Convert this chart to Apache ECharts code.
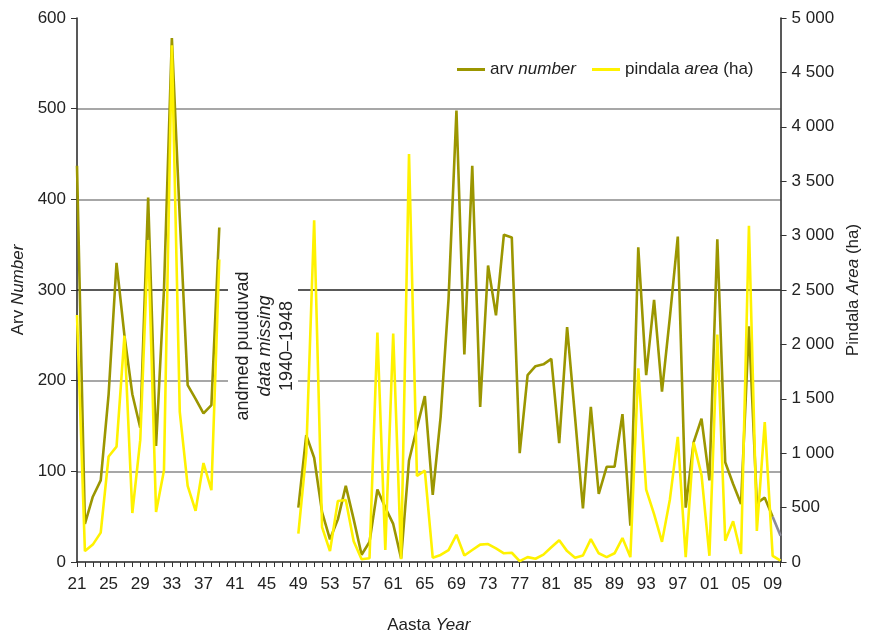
<!DOCTYPE html>
<html>
<head>
<meta charset="utf-8">
<script src="https://cdn.jsdelivr.net/npm/echarts@6/dist/echarts.min.js"></script>
<style>html,body{margin:0;padding:0;background:#fff;overflow:hidden}#c{width:100vw;height:100vh}</style>
</head>
<body>
<div id="c"></div>
<script>
// Years 1921–2010 (1940–1948 missing)
const years = [];
for (let y = 1921; y <= 2010; y++) years.push(String(y));

const arv = [
  437, 42, 72, 90, 185, 330, 250, 185, 148, 402,
  128, 300, 578, 380, 195, 180, 164, 173, 369,
  null, null, null, null, null, null, null, null, null,
  60, 140, 115, 55, 25, 47, 84, 47, 8, 22,
  80, 60, 42, 4, 112, 148, 183, 74, 160, 290,
  498, 229, 437, 171, 327, 272, 361, 358, 120, 206,
  216, 218, 224, 131, 259, 160, 59, 171, 75, 105,
  105, 163, 40, 347, 206, 289, 188, 270, 359, 60,
  132, 158, 90, 356, 110, 86, 64, 260, 65, 71,
  50, 29
];

const pindala = [
  2270, 100, 160, 270, 970, 1060, 2080, 450, 1120, 2960,
  460, 840, 4750, 1380, 700, 470, 910, 660, 2780,
  null, null, null, null, null, null, null, null, null,
  260, 1000, 3140, 320, 100, 560, 570, 190, 25, 35,
  2110, 110, 2100, 25, 3750, 790, 840, 40, 65, 110,
  250, 60, 110, 160, 165, 125, 80, 85, 8, 45,
  30, 68, 135, 200, 100, 40, 60, 210, 80, 45,
  80, 220, 45, 1780, 665, 440, 185, 575, 1150, 45,
  1100, 800, 57, 2090, 195, 375, 73, 3090, 285, 1285,
  57, 12
];

const leftTicks = [0, 100, 200, 300, 400, 500, 600];
const rightTicks = [0, 500, 1000, 1500, 2000, 2500, 3000, 3500, 4000, 4500, 5000];

const OLIVE = '#9b9600';
const YELLOW = '#fff200';
const FONT = "'Liberation Sans',Arial,sans-serif";
const FS = 17;

const n = years.length;
const arvMain = arv.map((v, i) => (i === n - 1 ? null : v));
const arvTail = arv.map((v, i) => (i >= n - 2 ? v : null));

const fmtSpace = v => String(v).replace(/\B(?=(\d{3})+(?!\d))/g, ' ');
const rich = {
  r: { fontFamily: FONT, fontSize: FS, color: '#222' },
  i: { fontFamily: FONT, fontSize: FS, color: '#222', fontStyle: 'italic' }
};

const chart = echarts.init(document.getElementById('c'), null, { renderer: 'canvas' });
chart.setOption({
  animation: false,
  backgroundColor: '#fff',
  textStyle: { fontFamily: FONT },
  grid: { left: 77, right: 85, top: 18, bottom: 68, containLabel: false },
  legend: {
    left: 452, top: 56,
    itemWidth: 28, itemHeight: 3, itemGap: 16,
    icon: 'rect',
    data: ['arv number', 'pindala area (ha)'],
    formatter: name => name === 'arv number'
      ? '{r|arv }{i|number}'
      : '{r|pindala }{i|area}{r| (ha)}',
    textStyle: { fontFamily: FONT, fontSize: FS, color: '#222', rich: rich }
  },
  xAxis: {
    type: 'category',
    data: years,
    boundaryGap: false,
    name: '{r|Aasta }{i|Year}',
    nameLocation: 'middle',
    nameGap: 55,
    nameTextStyle: { rich: rich },
    axisLine: { lineStyle: { color: '#222', width: 1.5 } },
    axisTick: { show: true, interval: 0, length: 5, lineStyle: { color: '#333' } },
    axisLabel: {
      interval: 3, margin: 14,
      fontFamily: FONT, fontSize: FS, color: '#222',
      formatter: v => v.slice(2)
    },
    splitLine: { show: false }
  },
  yAxis: [
    {
      type: 'value', min: leftTicks[0], max: leftTicks[leftTicks.length - 1], interval: 100,
      position: 'left',
      name: '{r|Arv }{i|Number}',
      nameLocation: 'middle', nameRotate: 90, nameGap: 50,
      nameTextStyle: { rich: rich },
      axisLine: { show: true, lineStyle: { color: '#222', width: 1.5 } },
      axisTick: { show: true, length: 6, lineStyle: { color: '#333' } },
      axisLabel: { margin: 11, fontFamily: FONT, fontSize: FS, color: '#222' },
      splitLine: {
        show: true,
        lineStyle: { color: ['transparent', '#8a8a8a', '#8a8a8a', '#222', '#8a8a8a', '#8a8a8a', 'transparent'], width: 1.5 }
      }
    },
    {
      type: 'value', min: rightTicks[0], max: rightTicks[rightTicks.length - 1], interval: 500,
      position: 'right',
      name: '{r|Pindala }{i|Area}{r| (ha)}',
      nameLocation: 'middle', nameRotate: 90, nameGap: 62,
      nameTextStyle: { rich: rich },
      axisLine: { show: true, lineStyle: { color: '#222', width: 1.5 } },
      axisTick: { show: true, length: 6, lineStyle: { color: '#333' } },
      axisLabel: { margin: 11, fontFamily: FONT, fontSize: FS, color: '#222', formatter: fmtSpace },
      splitLine: { show: false }
    }
  ],
  graphic: [
    {
      type: 'rect', z: 50,
      shape: { x: 228, y: 262, width: 70, height: 168 },
      style: { fill: '#fff' }
    },
    {
      type: 'text', z: 51,
      x: 265, y: 346, rotation: Math.PI / 2,
      style: {
        text: '{r|andmed puuduvad}\n{i|data missing}\n{r|1940–1948}',
        align: 'center', verticalAlign: 'middle',
        rich: {
          r: { fontFamily: FONT, fontSize: 18, fill: '#222', lineHeight: 22, align: 'center' },
          i: { fontFamily: FONT, fontSize: 18, fill: '#222', lineHeight: 22, align: 'center', fontStyle: 'italic' }
        }
      }
    }
  ],
  series: [
    {
      name: 'arv number', type: 'line', yAxisIndex: 0,
      data: arvMain, showSymbol: false, symbol: 'none',
      connectNulls: false,
      lineStyle: { color: OLIVE, width: 2.6 }, itemStyle: { color: OLIVE }
    },
    {
      name: 'arv tail', type: 'line', yAxisIndex: 0,
      data: arvTail, showSymbol: false, symbol: 'none',
      lineStyle: { color: '#8c8c9a', width: 2.6 }, itemStyle: { color: '#8c8c9a' }
    },
    {
      name: 'pindala area (ha)', type: 'line', yAxisIndex: 1,
      data: pindala, showSymbol: false, symbol: 'none',
      connectNulls: false,
      lineStyle: { color: YELLOW, width: 2.6 }, itemStyle: { color: YELLOW }
    }
  ]
});
</script>
</body>
</html>
